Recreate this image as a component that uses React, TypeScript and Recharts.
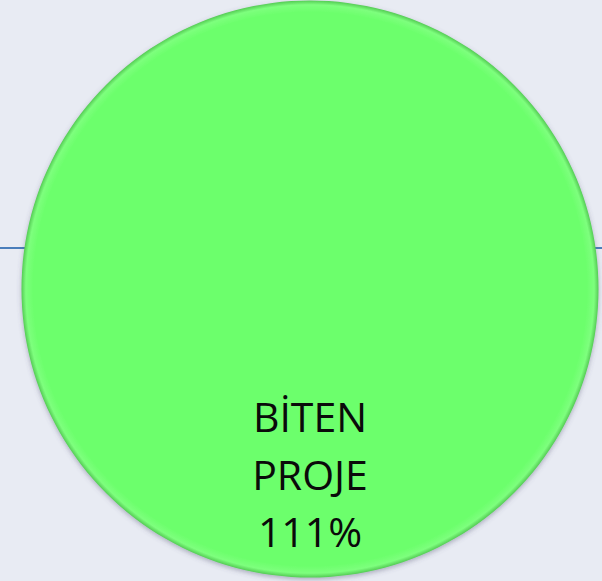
import { PieChart, Pie, Cell } from "recharts";

const sliceNames = ["BİTEN PROJE"];
const sliceValues = [111];
const sliceLabels = ["111%"];

const data = sliceNames.map((name, i) => ({ name, value: sliceValues[i], label: sliceLabels[i] }));

const RADIAN = Math.PI / 180;

function SliceLabel({ cx, cy, midAngle, outerRadius, payload }: any) {
  const r = outerRadius * 0.64;
  const x = cx + r * Math.cos(-midAngle * RADIAN);
  const y = cy + r * Math.sin(-midAngle * RADIAN);
  const words = String(payload.name).split(" ");
  const lines = [...words, payload.label];
  const lh = 57.5;
  const top = y - ((lines.length - 1) * lh) / 2;
  return (
    <text
      x={x}
      y={top}
      textAnchor="middle"
      dominantBaseline="central"
      fill="#0a0a0a"
      style={{ fontFamily: "'Open Sans', sans-serif", fontSize: 41 }}
    >
      {lines.map((l, i) => (
        <tspan key={i} x={x} y={top + i * lh}>{l}</tspan>
      ))}
    </text>
  );
}

export default function App() {
  return (
    <div style={{ position: "absolute", left: 0, top: 0, width: 602, height: 581, background: "#e8ebf3", overflow: "hidden" }}>
      <div style={{ position: "absolute", left: 0, right: 0, top: 247, height: 2, background: "#4a7ebb" }} />
      <div style={{ position: "absolute", left: 0, top: 0 }}>
        <PieChart width={602} height={581} margin={{ top: 0, right: 0, bottom: 0, left: 0 }}>
          <defs>
            <radialGradient id="greenFill" cx="50%" cy="50%" r="50%">
              <stop offset="0%" stopColor="#6cff6c" />
              <stop offset="96%" stopColor="#6cff6c" />
              <stop offset="98.5%" stopColor="#7dff7d" />
              <stop offset="100%" stopColor="#55cc55" />
            </radialGradient>
            <filter id="pieShadow" x="-10%" y="-10%" width="120%" height="120%">
              <feDropShadow dx="0" dy="2" stdDeviation="2.5" floodColor="#505070" floodOpacity="0.4" />
            </filter>
          </defs>
          <Pie
            data={data}
            dataKey="value"
            nameKey="name"
            cx={310}
            cy={289}
            outerRadius={288.5}
            startAngle={90}
            endAngle={-270}
            stroke="none"
            label={<SliceLabel />}
            labelLine={false}
            isAnimationActive={false}
            style={{ filter: "url(#pieShadow)" }}
          >
            {data.map((d) => (
              <Cell key={d.name} fill="url(#greenFill)" />
            ))}
          </Pie>
        </PieChart>
      </div>
    </div>
  );
}
